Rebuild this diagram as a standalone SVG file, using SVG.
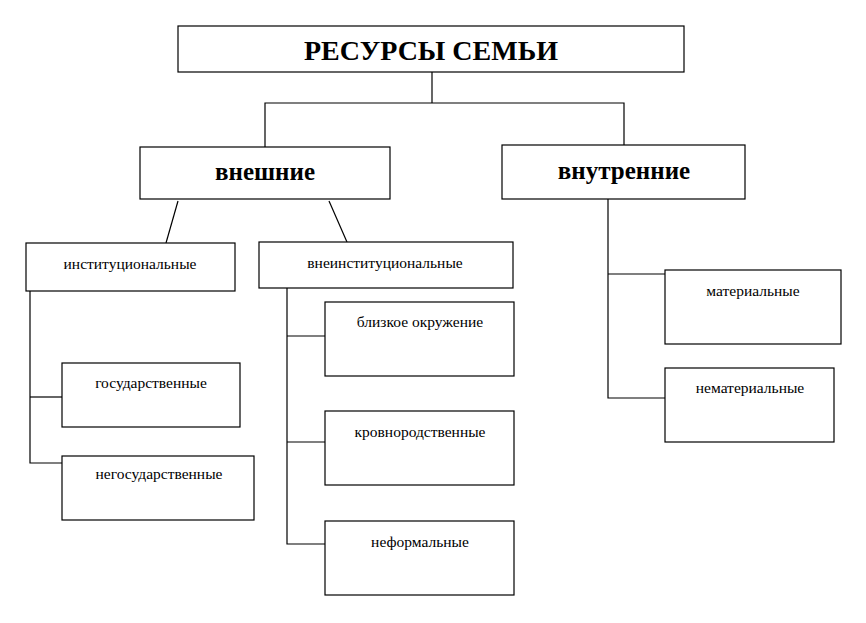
<svg xmlns="http://www.w3.org/2000/svg" width="866" height="623" viewBox="0 0 866 623">
<style>
rect{fill:#fff;stroke:#000;stroke-width:1.2}
line,polyline{stroke:#000;stroke-width:1.2;fill:none}
text{font-family:"Liberation Serif",serif;text-anchor:middle;fill:#000}
.t{font-size:28px;font-weight:bold}
.h{font-size:25px;font-weight:bold}
.s{font-size:15.5px}
</style>
<rect width="866" height="623" style="stroke:none"/>
<g id="connectors">
<polyline points="432,72 432,103"/>
<polyline points="265,147 265,103 624,103 624,145"/>
<line x1="178" y1="201" x2="166" y2="243"/>
<line x1="329" y1="201" x2="347" y2="242"/>
<polyline points="30,291 30,463 62,463"/>
<line x1="30" y1="397" x2="62" y2="397"/>
<polyline points="287,288 287,544 325,544"/>
<line x1="287" y1="336" x2="325" y2="336"/>
<line x1="287" y1="442" x2="325" y2="442"/>
<polyline points="608,199 608,398 665,398"/>
<line x1="608" y1="274" x2="665" y2="274"/>
</g>
<g id="root"><rect x="178" y="26" width="506" height="46"/><text class="t" x="431" y="60">РЕСУРСЫ СЕМЬИ</text></g>
<g id="ext"><rect x="140" y="147" width="250" height="52"/><text class="h" x="265" y="180">внешние</text></g>
<g id="int"><rect x="502" y="145" width="243" height="54"/><text class="h" x="624" y="179">внутренние</text></g>
<g id="inst"><rect x="26" y="243" width="209" height="48"/><text class="s" x="130" y="269">институциональные</text></g>
<g id="vneinst"><rect x="259" y="242" width="254" height="46"/><text class="s" x="385" y="268">внеинституциональные</text></g>
<g id="gos"><rect x="62" y="363" width="178" height="64"/><text class="s" x="151" y="388">государственные</text></g>
<g id="negos"><rect x="62" y="456" width="192" height="64"/><text class="s" x="159" y="479">негосударственные</text></g>
<g id="blizk"><rect x="325" y="302" width="189" height="74"/><text class="s" x="420" y="327">близкое окружение</text></g>
<g id="krov"><rect x="325" y="411" width="189" height="74"/><text class="s" x="420" y="437">кровнородственные</text></g>
<g id="neform"><rect x="325" y="521" width="189" height="74"/><text class="s" x="420" y="547">неформальные</text></g>
<g id="mat"><rect x="665" y="270" width="176" height="74"/><text class="s" x="753" y="296">материальные</text></g>
<g id="nemat"><rect x="665" y="368" width="169" height="74"/><text class="s" x="750" y="393">нематериальные</text></g>
</svg>
